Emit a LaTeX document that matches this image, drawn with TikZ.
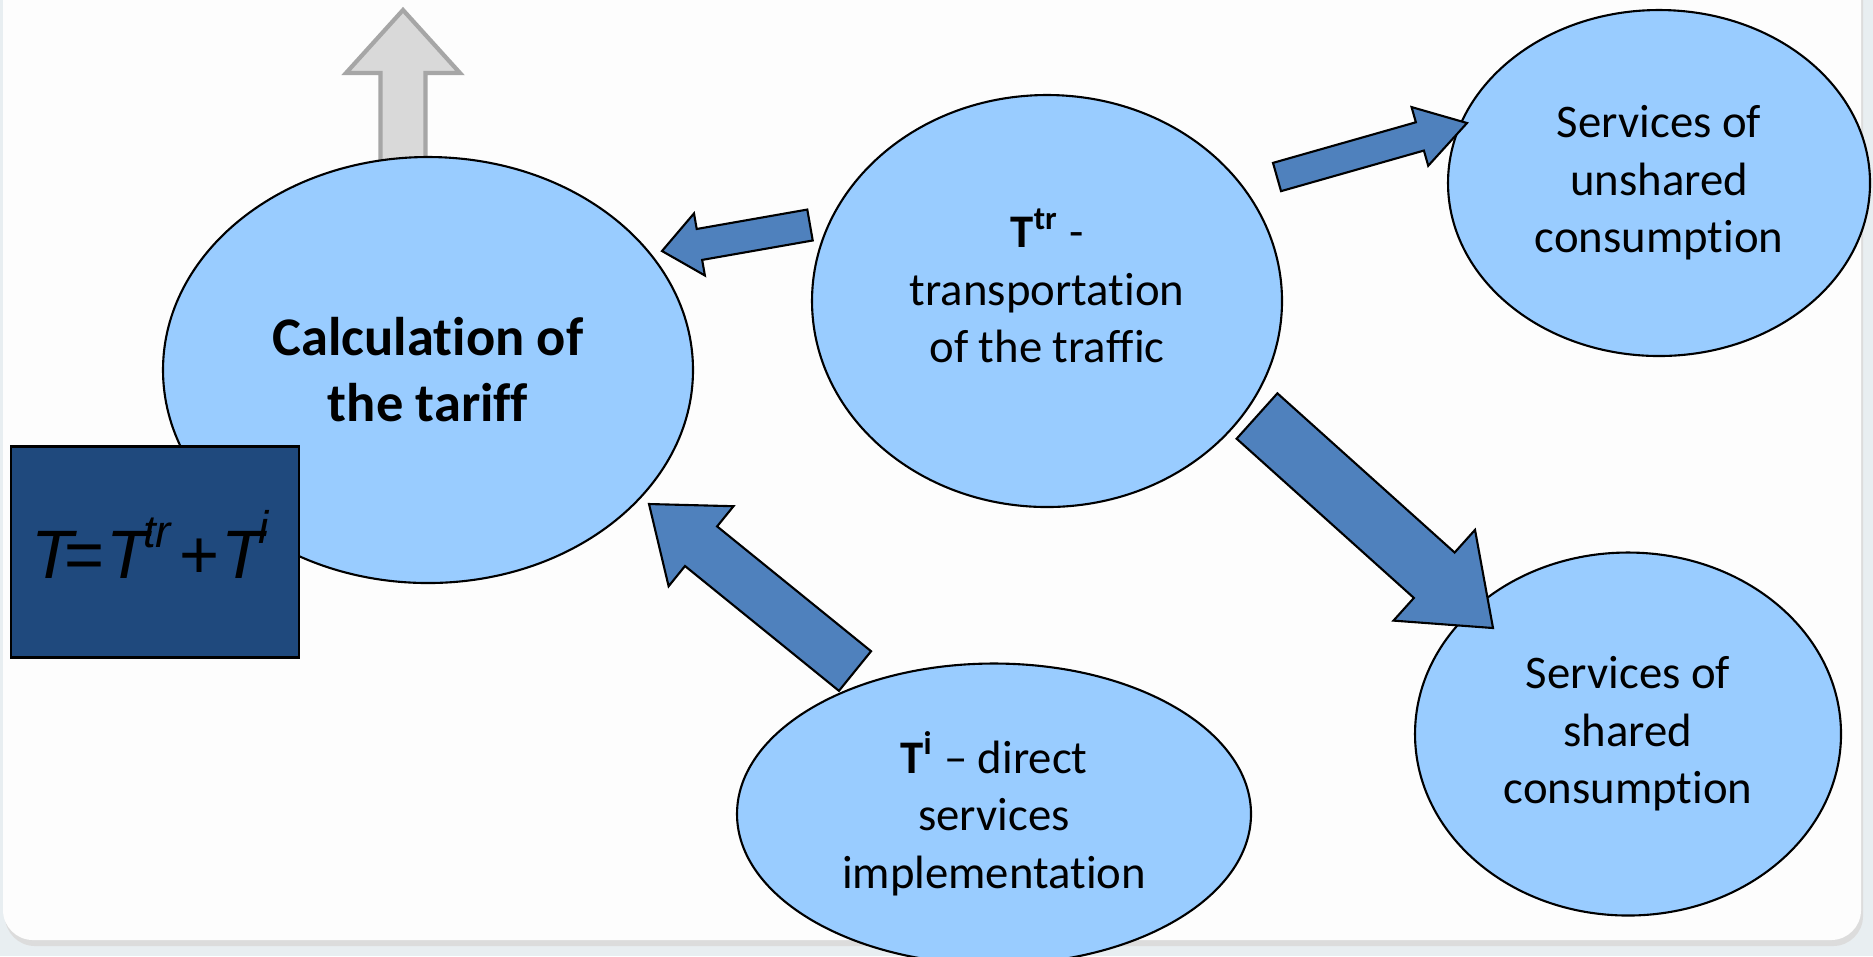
\documentclass[tikz,border=0pt]{standalone}
\usepackage{fontspec}
\setmainfont{Carlito}[Ligatures=NoCommon]
\newfontfamily\formulafont{Liberation Sans}
\usetikzlibrary{shapes.geometric,calc}
\definecolor{bubblefill}{HTML}{99CCFF}
\definecolor{arrowfill}{HTML}{4F81BD}
\definecolor{boxfill}{HTML}{1F497D}
\definecolor{upfill}{HTML}{D9D9D9}
\definecolor{upline}{HTML}{A6A6A6}
\definecolor{outerbg}{HTML}{E8EEF1}
\definecolor{panelbg}{HTML}{FDFDFD}
\definecolor{panelshadow}{HTML}{DCDCDC}
\newcommand{\blockarrow}[6][]{%
  \coordinate (ba neck) at ($(#3)!#6!(#2)$);
  \draw[#1] ($(#2)!#4!90:(#3)$) -- ($(ba neck)!#4!90:(#3)$) -- ($(ba neck)!#5!90:(#3)$)
    -- (#3) -- ($(ba neck)!#5!-90:(#3)$) -- ($(ba neck)!#4!-90:(#3)$) -- ($(#2)!#4!-90:(#3)$) -- cycle;}
\begin{document}
\begin{tikzpicture}[x=0.1mm, y=-0.1mm,
        bubble/.style={ellipse, draw=black, line width=0.6pt, fill=bubblefill, inner sep=0pt},
        txt/.style={align=center, font=\fontsize{13.3}{16.4}\selectfont},
        bigtxt/.style={align=center, font=\bfseries\fontsize{15.5}{18.8}\selectfont},
        flow/.style={fill=arrowfill, draw=black, line width=0.6pt},
        upflow/.style={fill=upfill, draw=upline, line width=1.2pt},
        formula/.style={rectangle, draw=black, line width=0.8pt, fill=boxfill, inner sep=0pt},
        sumtxt/.style={inner sep=0pt, anchor=base, font=\formulafont\itshape\fontsize{19.5}{24}\selectfont},
        ]
        \useasboundingbox (0,0) rectangle (1873,956);
        \fill[outerbg] (0,0) rectangle (1873,956);
        \fill[panelshadow, rounded corners=3mm] (5,-40) rectangle (1863,946);
        \fill[panelbg, rounded corners=3mm] (3,-40) rectangle (1861,940);
        \coordinate (up tail) at (403,200);
        \coordinate (up tip) at (403,10);
        \blockarrow[upflow]{up tail}{up tip}{2.25mm}{5.7mm}{6.3mm}
        \node[bubble, minimum width=53mm, minimum height=42.6mm] (calc) at (428,370) {};
        \node[bubble, minimum width=47mm, minimum height=41.2mm] (tr) at (1047,301) {};
        \node[bubble, minimum width=42.2mm, minimum height=34.6mm] (unshared) at (1659,183) {};
        \node[bubble, minimum width=42.6mm, minimum height=36.3mm] (shared) at (1628,734) {};
        \node[bubble, minimum width=51.4mm, minimum height=30.1mm] (ti) at (994,814) {};
        \node[bigtxt] (calc text) at (calc) {Calculation of\\the tariff};
        \node[txt] (tr text) at ([yshift=1.5mm]tr.center) {\textbf{T\textsuperscript{tr}} -\\transportation\\of the traffic};
        \node[txt] (unshared text) at (unshared) {Services of\\unshared\\consumption};
        \node[txt] (shared text) at (shared) {Services of\\shared\\consumption};
        \node[txt] (ti text) at (ti) {\textbf{T\textsuperscript{i}} -- direct\\services\\implementation};
        \node[formula, minimum width=28.8mm, minimum height=21.1mm] (sum) at (155,552) {};
        \node[sumtxt] (sum text) at (150,578)
            {T\kern-3pt=\kern1pt T\kern-1.5pt\raisebox{0.45em}{\fontsize{13}{13}\selectfont tr}\kern2pt+\kern1pt T\kern-1.5pt\raisebox{0.5em}{\fontsize{13}{13}\selectfont i}};
        \coordinate (tr left) at (810,225);
        \coordinate (calc right) at (662,251);
        \coordinate (tr right) at (1277,177);
        \coordinate (unshared left) at (1467,123);
        \coordinate (tr low) at (1257,416);
        \coordinate (shared top) at (1493,628);
        \coordinate (ti top) at (855,671);
        \coordinate (calc low) at (649,504);
        \blockarrow[flow]{tr left}{calc right}{1.57mm}{3.15mm}{3.8mm}
        \blockarrow[flow]{tr right}{unshared left}{1.47mm}{3.05mm}{4.9mm}
        \blockarrow[flow]{tr low}{shared top}{3.05mm}{6.1mm}{7.9mm}
        \blockarrow[flow]{ti top}{calc low}{2.55mm}{5.15mm}{6.7mm}
\end{tikzpicture}
\end{document}
